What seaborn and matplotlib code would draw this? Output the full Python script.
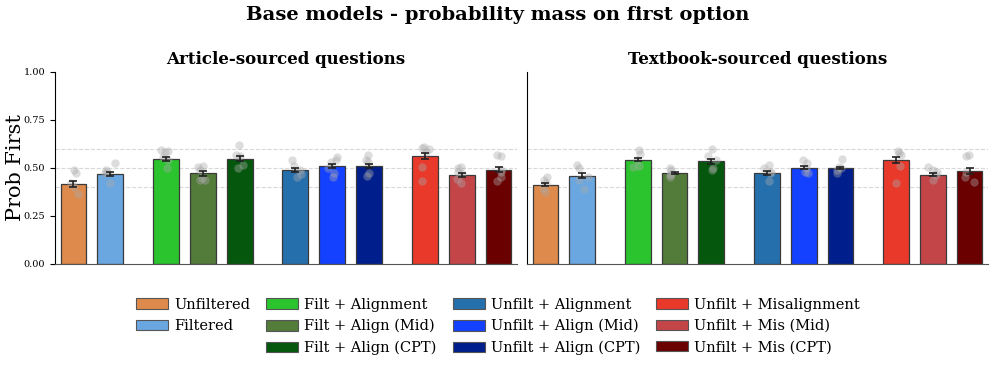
import numpy as np
import pandas as pd
import seaborn as sns
import matplotlib.pyplot as plt
from matplotlib.patches import Patch

labels = ["Unfiltered", "Filtered",
          "Filt + Alignment", "Filt + Align (Mid)", "Filt + Align (CPT)",
          "Unfilt + Alignment", "Unfilt + Align (Mid)", "Unfilt + Align (CPT)",
          "Unfilt + Misalignment", "Unfilt + Mis (Mid)", "Unfilt + Mis (CPT)"]
colors = ["#dd8a4c", "#6aa7e0",
          "#2bc42f", "#537b3a", "#04570c",
          "#266fad", "#1440ff", "#001f8c",
          "#e8392b", "#c44548", "#6b0000"]
positions = [0, 1, 2.5, 3.5, 4.5, 6, 7, 8, 9.5, 10.5, 11.5]

article_mean = [0.417, 0.467, 0.547, 0.472, 0.547, 0.490, 0.512, 0.510, 0.561, 0.464, 0.490]
article_se = [0.014, 0.010, 0.012, 0.012, 0.013, 0.010, 0.011, 0.011, 0.016, 0.009, 0.013]
textbook_mean = [0.413, 0.460, 0.542, 0.472, 0.535, 0.474, 0.502, 0.500, 0.543, 0.464, 0.486]
textbook_se = [0.008, 0.012, 0.008, 0.005, 0.012, 0.008, 0.007, 0.006, 0.015, 0.008, 0.015]

article_points = [
    [0.49, 0.475, 0.42, 0.40, 0.365],
    [0.524, 0.49, 0.48, 0.472, 0.42],
    [0.594, 0.585, 0.59, 0.559, 0.54, 0.498],
    [0.507, 0.51, 0.49, 0.446, 0.437, 0.44],
    [0.62, 0.568, 0.56, 0.516, 0.50],
    [0.542, 0.51, 0.49, 0.47, 0.455],
    [0.559, 0.54, 0.53, 0.50, 0.472, 0.455],
    [0.568, 0.542, 0.53, 0.472, 0.46],
    [0.603, 0.61, 0.60, 0.585, 0.507, 0.43],
    [0.507, 0.498, 0.48, 0.47, 0.441, 0.42],
    [0.568, 0.56, 0.49, 0.48, 0.455, 0.43],
]
textbook_points = [
    [0.455, 0.437, 0.42, 0.394, 0.377],
    [0.516, 0.498, 0.455, 0.437, 0.39],
    [0.594, 0.573, 0.54, 0.51, 0.507],
    [0.498, 0.49, 0.47, 0.464, 0.455],
    [0.597, 0.56, 0.54, 0.50, 0.49],
    [0.516, 0.50, 0.48, 0.472, 0.43],
    [0.54, 0.528, 0.50, 0.48, 0.472],
    [0.545, 0.507, 0.50, 0.49, 0.472],
    [0.59, 0.58, 0.57, 0.51, 0.42],
    [0.507, 0.49, 0.48, 0.464, 0.437],
    [0.57, 0.56, 0.48, 0.455, 0.425],
]

sns.set_style("ticks")
plt.rcParams['font.family'] = ['DejaVu Serif']
plt.rcParams['text.color'] = 'black'
plt.rcParams['axes.labelcolor'] = 'black'
plt.rcParams['xtick.color'] = 'black'
plt.rcParams['ytick.color'] = 'black'
plt.rcParams['axes.edgecolor'] = 'black'
np.random.seed(3)

fig = plt.figure(figsize=(9.96, 3.7), dpi=100)
ax1 = fig.add_axes([0.0552, 0.2865, 0.4639, 0.519])
ax2 = fig.add_axes([0.5291, 0.2865, 0.4629, 0.519])

panels = [(ax1, "Article-sourced questions", article_mean, article_se, article_points),
          (ax2, "Textbook-sourced questions", textbook_mean, textbook_se, textbook_points)]

for ax, title, means, ses, points in panels:
    df = pd.DataFrame({"pos": positions, "mean": means, "label": labels})
    sns.barplot(data=df, x="pos", y="mean", hue="label", hue_order=labels,
                palette=colors, saturation=1, native_scale=True, width=0.7, dodge=False,
                errorbar=None, legend=False, edgecolor="#3a3a3a", linewidth=0.9,
                ax=ax, zorder=2)
    for yl in [0.4, 0.5, 0.6]:
        ax.axhline(yl, color="#d8d8d8", linestyle="--", linewidth=0.8, zorder=0)
    pts = pd.DataFrame({"pos": [p for p, v in zip(positions, points) for _ in v],
                        "val": [x for v in points for x in v]})
    sns.stripplot(data=pts, x="pos", y="val", native_scale=True, color="#aaaaaa",
                  alpha=0.4, size=6, jitter=0.15, linewidth=0, ax=ax, zorder=3)
    ax.errorbar(positions, means, yerr=ses, fmt="none", ecolor="#222222",
                elinewidth=1.2, capsize=3, capthick=1.2, zorder=4)
    ax.set_xlim(-0.5, 12.0)
    ax.set_ylim(0, 1)
    ax.set_xticks([])
    ax.set_xlabel("")
    ax.set_title(title, fontsize=12, fontweight="bold", pad=6)
    sns.despine(ax=ax)

ax1.set_yticks([0, 0.25, 0.5, 0.75, 1.0])
ax1.set_yticklabels(["0.00", "0.25", "0.50", "0.75", "1.00"], fontsize=7)
ax1.set_ylabel("Prob First", fontsize=15)
ax1.yaxis.set_label_coords(-0.064, 0.5)
ax2.set_yticks([])
ax2.set_ylabel("")
ax1.spines["bottom"].set_color("#555555")
ax2.spines["bottom"].set_color("#555555")

fig.suptitle("Base models - probability mass on first option", fontsize=14,
             fontweight="bold", y=0.985)

handles = [Patch(facecolor=c, edgecolor="#555555", linewidth=0.8) for c in colors]
hl = handles[:2] + [Patch(visible=False)] + handles[2:]
ll = labels[:2] + [""] + labels[2:]
fig.legend(hl, ll, loc="center", bbox_to_anchor=(0.5, 0.118), ncol=4, frameon=False,
           fontsize=10.5, handlelength=2.2, handleheight=0.75, columnspacing=1.1,
           handletextpad=0.4, labelspacing=0.5)

fig.savefig("out.png", dpi=100)
